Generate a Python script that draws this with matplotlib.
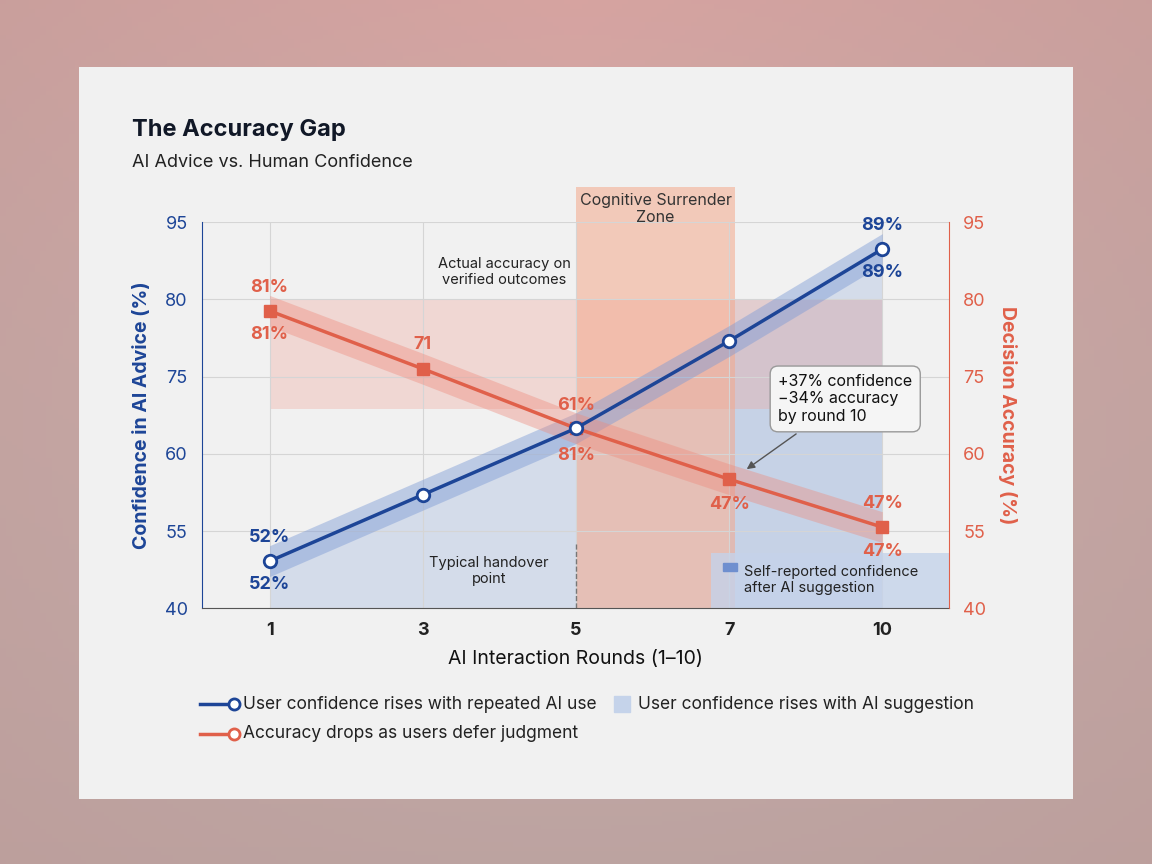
import numpy as np
import matplotlib.pyplot as plt
import matplotlib.patches as mpatches
from matplotlib.lines import Line2D

plt.rcParams['font.family'] = ['Inter', 'DejaVu Sans']

rounds = ["1", "3", "5", "7", "10"]
y_tick_labels = ["40", "55", "60", "75", "80", "95"]
# series positions on the chart's evenly spaced gridline scale (0 = "40", 5 = "95")
confidence = [0.61, 1.47, 2.33, 3.46, 4.65]
accuracy = [3.85, 3.10, 2.33, 1.67, 1.05]

BLUE = "#1d4597"
RED = "#e0604a"
x = np.arange(len(rounds))

fig = plt.figure(figsize=(11.52, 8.64), dpi=100)

# background gradient
bg = fig.add_axes([0, 0, 1, 1], zorder=-10)
yy, xx = np.mgrid[0:1:200j, 0:1:200j]
r = np.sqrt((xx - 0.5) ** 2 + (yy - 0.5) ** 2)
img = np.zeros((200, 200, 3))
img[..., 0] = 0.74 + 0.10 * yy * (1 - np.abs(xx - 0.5))
img[..., 1] = 0.68 - 0.08 * r
img[..., 2] = 0.67 - 0.08 * r
bg.imshow(np.clip(img, 0, 1), extent=[0, 1, 0, 1], aspect='auto', origin='lower')
bg.axis('off')
fig.patches.append(mpatches.Rectangle((0.069, 0.075), 0.862, 0.848, transform=fig.transFigure,
                                      facecolor="#f1f1f1", edgecolor="none", zorder=-5))

fig.text(0.115, 0.843, "The Accuracy Gap", fontsize=17, fontweight='bold', color="#111827")
fig.text(0.115, 0.807, "AI Advice vs. Human Confidence", fontsize=13, color="#222")

ax = fig.add_axes([0.175, 0.296, 0.649, 0.447])
ax.set_facecolor("none")
ax.set_xlim(-0.444, 4.437)
ax.set_ylim(0, 5)
ax.set_xticks(x)
ax.set_xticklabels(rounds, fontsize=13, fontweight='bold', color="#222")
ax.set_yticks(range(6))
ax.set_yticklabels(y_tick_labels, fontsize=13, color=BLUE)
ax.tick_params(length=0, pad=10)
ax.grid(color="#d5d5d5", lw=0.8)
ax.spines["top"].set_visible(False)
ax.spines["right"].set_visible(False)
ax.spines["left"].set_color(BLUE)
ax.spines["bottom"].set_color("#555")

ax2 = ax.twinx()
ax2.set_ylim(0, 5)
ax2.set_yticks(range(6))
ax2.set_yticklabels(y_tick_labels, fontsize=13, color=RED)
ax2.tick_params(length=0, pad=10)
ax2.spines["right"].set_color(RED)
ax2.spines["top"].set_visible(False)
ax2.spines["left"].set_visible(False)
ax2.spines["bottom"].set_visible(False)
ax2.set_ylabel("Decision Accuracy (%)", color=RED, fontsize=14, fontweight='bold', rotation=270, labelpad=22)
ax.set_ylabel("Confidence in AI Advice (%)", color=BLUE, fontsize=14, fontweight='bold', labelpad=10)
ax.set_xlabel("AI Interaction Rounds (1–10)", fontsize=14, color="#111", labelpad=8)

# shaded regions
ax.fill_between(x, 0, confidence, color="#9fb6dd", alpha=0.35, lw=0, zorder=1)
ax.add_patch(mpatches.Rectangle((3, 0), 1, 4.0, color="#9fb6dd", alpha=0.25, lw=0, zorder=1))
ax.add_patch(mpatches.Rectangle((0, 2.58), 4, 1.42, color="#f0a89c", alpha=0.35, lw=0, zorder=1))
ax.add_patch(mpatches.Rectangle((2.0, 0), 1.04, 5.45, color="#f4a88c", alpha=0.55, lw=0,
                                zorder=1, clip_on=False))
ax.text(2.52, 5.17, "Cognitive Surrender\nZone", ha='center', va='center', fontsize=11.5, color="#333")

# bands and lines
c = np.array(confidence)
a = np.array(accuracy)
ax.fill_between(x, c - 0.2, c + 0.2, color="#7d9bd6", alpha=0.45, lw=0, zorder=2)
ax.fill_between(x, a - 0.2, a + 0.2, color="#ee8a7c", alpha=0.40, lw=0, zorder=2)
ax.plot(x, c, color=BLUE, lw=2.5, marker='o', ms=9, mfc='white', mew=2, zorder=4)
ax.plot(x, a, color=RED, lw=2.5, marker='s', ms=9, zorder=3)

lab = dict(ha='center', va='center', fontsize=13, fontweight='bold')
ax.text(0, c[0] + 0.3, "52%", color=BLUE, **lab)
ax.text(0, c[0] - 0.3, "52%", color=BLUE, **lab)
ax.text(4, c[4] + 0.3, "89%", color=BLUE, **lab)
ax.text(4, c[4] - 0.3, "89%", color=BLUE, **lab)
ax.text(0, a[0] + 0.3, "81%", color=RED, **lab)
ax.text(0, a[0] - 0.3, "81%", color=RED, **lab)
ax.text(1, a[1] + 0.32, "71", color=RED, **lab)
ax.text(2, a[2] + 0.3, "61%", color=RED, **lab)
ax.text(2, a[2] - 0.35, "81%", color=RED, **lab)
ax.text(3, a[3] - 0.33, "47%", color=RED, **lab)
ax.text(4, a[4] + 0.3, "47%", color=RED, **lab)
ax.text(4, a[4] - 0.32, "47%", color=RED, **lab)

ax.text(1.53, 4.35, "Actual accuracy on\nverified outcomes", ha='center', va='center', fontsize=10.5, color="#222")
ax.text(1.43, 0.48, "Typical handover\npoint", ha='center', va='center', fontsize=10.5, color="#222")
ax.plot([2, 2], [0, 0.85], color="#777", lw=1, ls='--', zorder=3)
ax.annotate("+37% confidence\n\u221234% accuracy\nby round 10", xy=(3.1, 1.78), xytext=(3.32, 2.71),
            fontsize=11.5, color="#111", va='center', ha='left',
            bbox=dict(boxstyle='round,pad=0.5', fc='#f5f5f5', ec='#999'),
            arrowprops=dict(arrowstyle='-|>', color='#555', lw=1), zorder=6)

# inner legend box
ax.add_patch(mpatches.Rectangle((2.88, 0), 1.56, 0.71, color="#c5d3ea", alpha=0.8, lw=0, zorder=2))
ax.add_patch(mpatches.Rectangle((2.96, 0.48), 0.09, 0.11, color="#6f8fcf", zorder=3))
ax.text(3.1, 0.37, "Self-reported confidence\nafter AI suggestion", fontsize=10.5, color="#222",
        va='center', zorder=3)

# bottom legend
fig.add_artist(Line2D([0.174, 0.203], [0.185, 0.185], color=BLUE, lw=2.5, marker='o',
                      markevery=[1], ms=8, mfc='white', mew=2))
fig.text(0.211, 0.185, "User confidence rises with repeated AI use", fontsize=12.5, va='center', color="#222")
fig.add_artist(Line2D([0.174, 0.203], [0.151, 0.151], color=RED, lw=2.5, marker='o',
                      markevery=[1], ms=8, mfc='white', mew=2))
fig.text(0.211, 0.151, "Accuracy drops as users defer judgment", fontsize=12.5, va='center', color="#222")
fig.patches.append(mpatches.Rectangle((0.533, 0.176), 0.014, 0.019, transform=fig.transFigure,
                                      color="#c5d3ea"))
fig.text(0.554, 0.185, "User confidence rises with AI suggestion", fontsize=12.5, va='center', color="#222")

fig.savefig("out.png", dpi=100)
